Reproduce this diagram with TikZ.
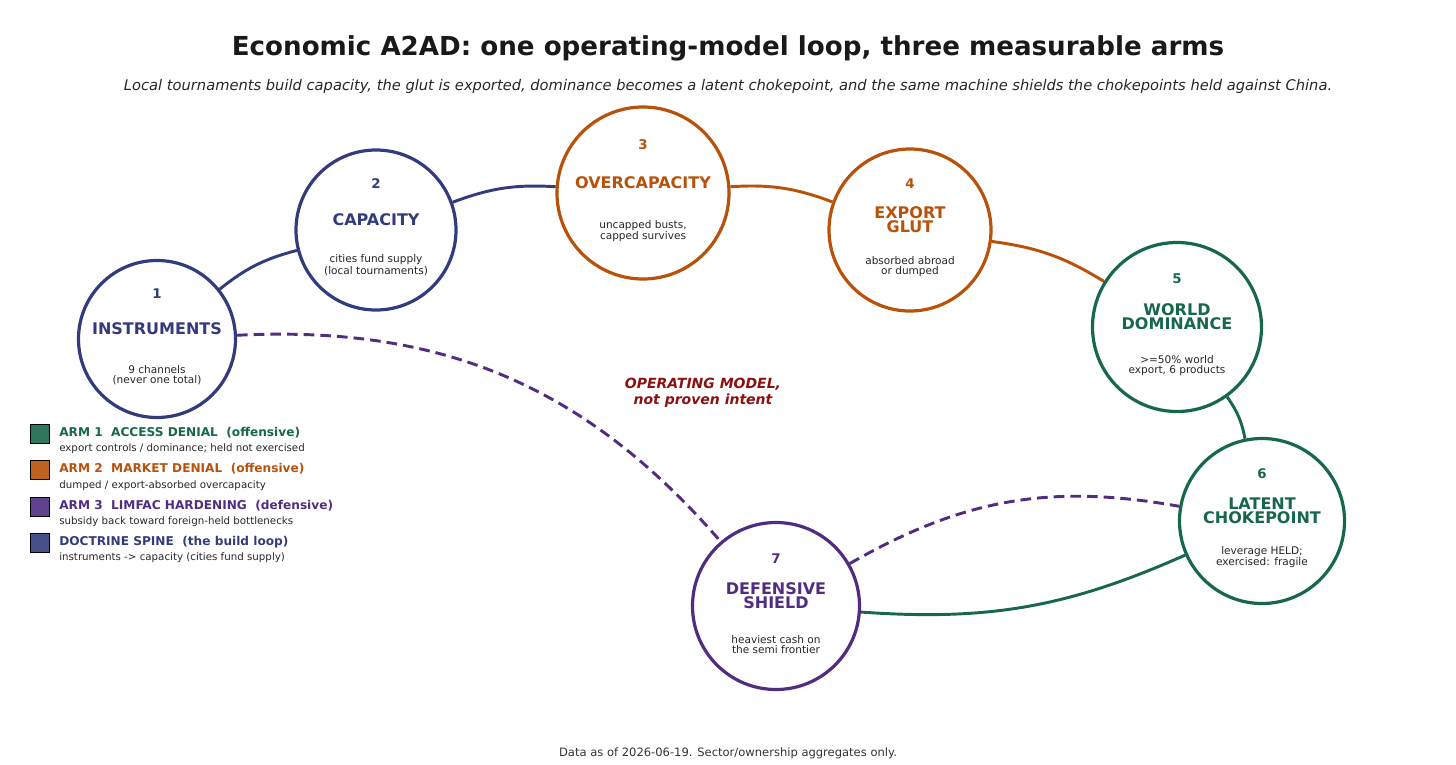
\documentclass[tikz,border=0pt]{standalone}
\usepackage{fontspec}
\setmainfont{DejaVu Sans}
\definecolor{spine}{HTML}{323C7C}
\definecolor{market}{HTML}{B8520A}
\definecolor{access}{HTML}{17674A}
\definecolor{limfac}{HTML}{512D81}
\definecolor{intent}{HTML}{8B1010}
\begin{document}
\begin{tikzpicture}[x=0.75pt, y=-0.75pt,
    stage/.style={draw, circle, line width=2.4pt, fill=white, inner sep=0pt},
    num/.style={font=\fontsize{10}{10}\selectfont\bfseries},
    head/.style={font=\fontsize{12}{10.5}\selectfont\bfseries, align=center},
    note/.style={font=\fontsize{7.9}{7.4}\selectfont, align=center, text=black!85},
    link/.style={line width=2.2pt},
    dashlink/.style={link, dash pattern=on 8pt off 4.5pt},
    legbox/.style={draw=black, line width=0.6pt, minimum size=14.25pt, inner sep=0pt},
    legtop/.style={anchor=west, inner sep=0pt, font=\fontsize{9.1}{10}\selectfont\bfseries},
    legsub/.style={anchor=west, inner sep=0pt, font=\fontsize{7.7}{8}\selectfont, text=black!85}]
    \useasboundingbox (0,0) rectangle (1456,764);

    \node[font=\fontsize{19.6}{21}\selectfont\bfseries, text=black!90] (title) at (728,48) {Economic A2AD: one operating-model loop, three measurable arms};
    \node[font=\fontsize{11}{12}\selectfont\itshape, text=black!85] (subtitle) at (728,86) {Local tournaments build capacity, the glut is exported, dominance becomes a latent chokepoint, and the same machine shields the chokepoints held against China.};

    \node[stage, draw=spine, minimum size=117.75pt] (s1) at (157,339) {};
    \node[stage, draw=spine, minimum size=120pt] (s2) at (376,230) {};
    \node[stage, draw=market, minimum size=129pt] (s3) at (643,193) {};
    \node[stage, draw=market, minimum size=121.5pt] (s4) at (910,230) {};
    \node[stage, draw=access, minimum size=126.75pt] (s5) at (1177,327) {};
    \node[stage, draw=access, minimum size=123.75pt] (s6) at (1262,521) {};
    \node[stage, draw=limfac, minimum size=125.25pt] (s7) at (776,606) {};

    \node[num, text=spine] (s1n) at (157,294) {1};
    \node[head, text=spine] (s1h) at (157,329) {INSTRUMENTS};
    \node[note] (s1d) at (157,375) {9 channels\\(never one total)};

    \node[num, text=spine] (s2n) at (376,184) {2};
    \node[head, text=spine] (s2h) at (376,220) {CAPACITY};
    \node[note] (s2d) at (376,265) {cities fund supply\\(local tournaments)};

    \node[num, text=market] (s3n) at (643,145) {3};
    \node[head, text=market] (s3h) at (643,183) {OVERCAPACITY};
    \node[note] (s3d) at (643,231) {uncapped busts,\\capped survives};

    \node[num, text=market] (s4n) at (910,184) {4};
    \node[head, text=market] (s4h) at (910,220) {EXPORT\\GLUT};
    \node[note] (s4d) at (910,266.5) {absorbed abroad\\or dumped};

    \node[num, text=access] (s5n) at (1177,279) {5};
    \node[head, text=access] (s5h) at (1177,317) {WORLD\\DOMINANCE};
    \node[note] (s5d) at (1177,365.5) {>=50\% world\\export, 6 products};

    \node[num, text=access] (s6n) at (1262,474) {6};
    \node[head, text=access] (s6h) at (1262,511) {LATENT\\CHOKEPOINT};
    \node[note] (s6d) at (1262,557) {leverage HELD;\\exercised: fragile};

    \node[num, text=limfac] (s7n) at (776,559) {7};
    \node[head, text=limfac] (s7h) at (776,596) {DEFENSIVE\\SHIELD};
    \node[note] (s7d) at (776,644.5) {heaviest cash on\\the semi frontier};

    \draw[link, spine] (s1) to[bend left=12] (s2);
    \draw[link, spine] (s2) to[bend left=12] (s3);
    \draw[link, market] (s3) to[bend left=12] (s4);
    \draw[link, market] (s4) to[bend left=12] (s5);
    \draw[link, access] (s5) to[bend left=12] (s6);
    \draw[link, access] (s6) to[bend left=14] (s7);
    \draw[dashlink, limfac] (s1) to[bend left=26] (s7);
    \draw[dashlink, limfac] (s7) to[bend left=20] (s6);

    \node[font=\fontsize{10.5}{12}\selectfont\bfseries\itshape, text=intent, align=center] (model) at (703,393) {OPERATING MODEL,\\not proven intent};

    \node[legbox, fill=access!90!white] (k1) at (39.5,433.5) {};
    \node[legtop, text=access] (k1t) at (59,433) {ARM 1~~ACCESS DENIAL~~(offensive)};
    \node[legsub] (k1s) at (59,449) {export controls / dominance; held not exercised};
    \node[legbox, fill=market!90!white] (k2) at (39.5,470) {};
    \node[legtop, text=market] (k2t) at (59,469) {ARM 2~~MARKET DENIAL~~(offensive)};
    \node[legsub] (k2s) at (59,485.5) {dumped / export-absorbed overcapacity};
    \node[legbox, fill=limfac!90!white] (k3) at (39.5,506.5) {};
    \node[legtop, text=limfac] (k3t) at (59,506) {ARM 3~~LIMFAC HARDENING~~(defensive)};
    \node[legsub] (k3s) at (59,522) {subsidy back toward foreign-held bottlenecks};
    \node[legbox, fill=spine!90!white] (k4) at (39.5,543) {};
    \node[legtop, text=spine] (k4t) at (59,542) {DOCTRINE SPINE~~(the build loop)};
    \node[legsub] (k4s) at (59,558) {instruments -> capacity (cities fund supply)};

    \node[font=\fontsize{8.65}{9}\selectfont, text=black!80] (foot) at (728,753) {Data as of 2026-06-19. Sector/ownership aggregates only.};
  \end{tikzpicture}
\end{document}
